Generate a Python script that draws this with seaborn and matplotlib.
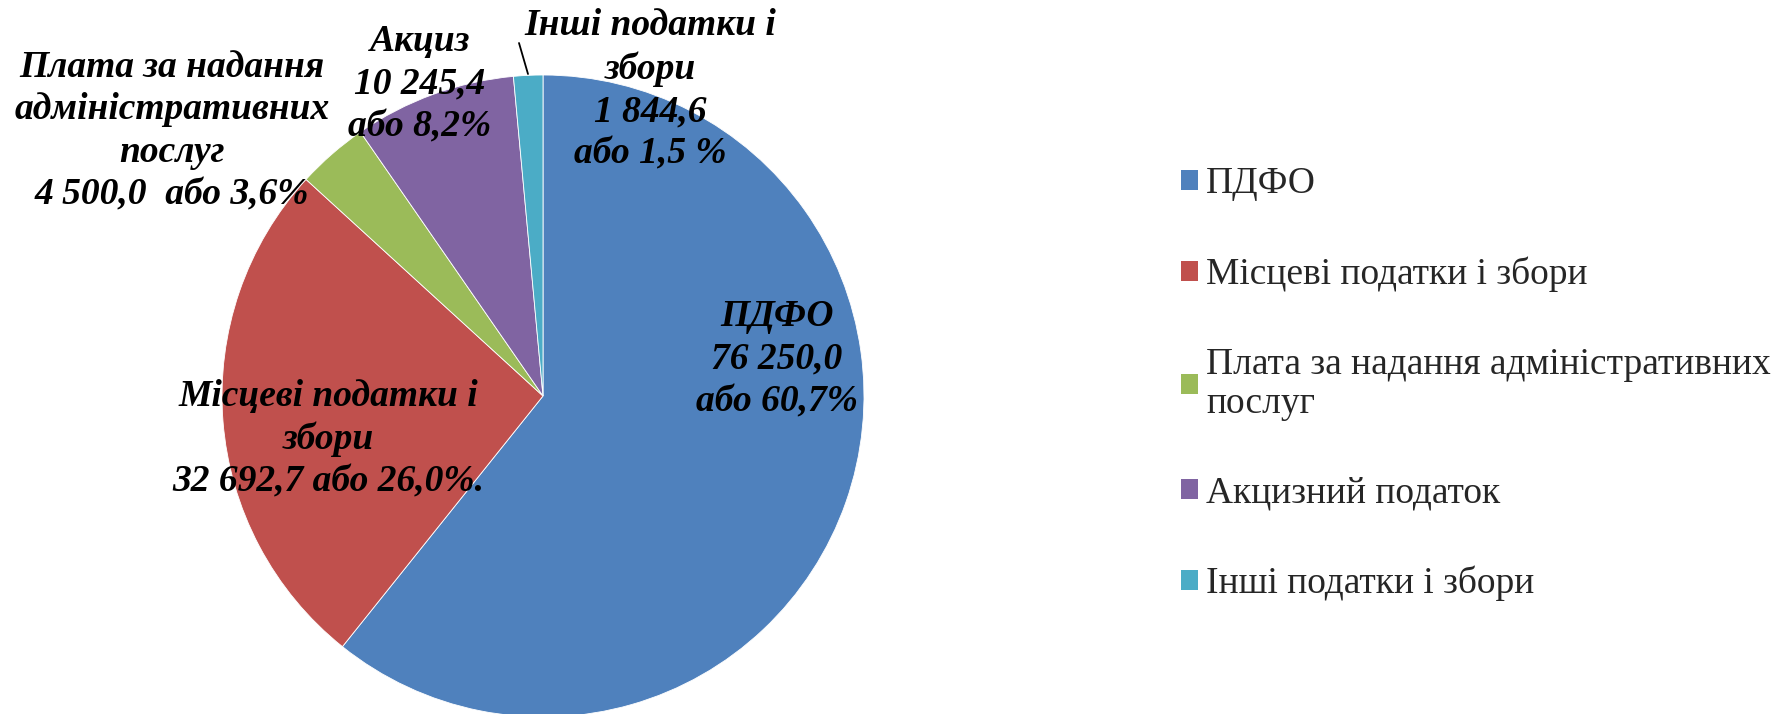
import matplotlib
matplotlib.use("Agg")
import matplotlib.pyplot as plt
import seaborn as sns
from matplotlib.patches import Patch

sns.set_theme(style="white")
plt.rcParams['font.family'] = ['Liberation Serif', 'DejaVu Serif']

categories = ["ПДФО", "Місцеві податки і збори",
              "Плата за надання адміністративних\nпослуг",
              "Акцизний податок", "Інші податки і збори"]
values = [76250.0, 32692.7, 4500.0, 10245.4, 1844.6]
data_labels = ["ПДФО\n76 250,0\nабо 60,7%",
               "Місцеві податки і\nзбори\n32 692,7 або 26,0%.",
               "Плата за надання\nадміністративних\nпослуг\n4 500,0  або 3,6%",
               "Акциз\n10 245,4\nабо 8,2%",
               "Інші податки і\nзбори\n1 844,6\nабо 1,5 %"]
colors = sns.color_palette(["#4F81BD", "#C0504D", "#9BBB59", "#8064A2", "#4BACC6"])

W, H = 1777, 714
fig = plt.figure(figsize=(W / 100, H / 100), dpi=100)
ax = fig.add_axes([0, 0, 1, 1])

wedges, _ = ax.pie(values, colors=colors, startangle=90, counterclock=False,
                   center=(543, 318), radius=321, frame=True,
                   wedgeprops=dict(linewidth=0.6, edgecolor='white'))
ax.set_xlim(0, W)
ax.set_ylim(0, H)
ax.set_aspect('equal')
ax.axis('off')
for w in wedges:
    w.set_clip_on(False)

label_pos = [(777, 355), (328, 275), (172, 583), (420, 630), (650, 624)]
for txt, (x, y) in zip(data_labels, label_pos):
    ax.text(x, y, txt, ha='center', va='center', fontsize=27,
            fontweight='bold', fontstyle='italic', linespacing=1.28,
            color='black')

# leader line for the small slice
ax.plot([519, 528], [671, 640], color='black', linewidth=1.3)

handles = [Patch(facecolor=c, edgecolor='none') for c in colors]
leg = fig.legend(handles, categories, loc='center left',
                 bbox_to_anchor=(1181 / W, 1 - 384 / H),
                 frameon=False, fontsize=27, handlelength=0.45,
                 handleheight=0.45, handletextpad=0.22, labelspacing=1.47,
                 borderpad=0, borderaxespad=0)
leg.get_texts()[2].set_linespacing(1.18)

fig.savefig("out.png", dpi=100, facecolor='white')
